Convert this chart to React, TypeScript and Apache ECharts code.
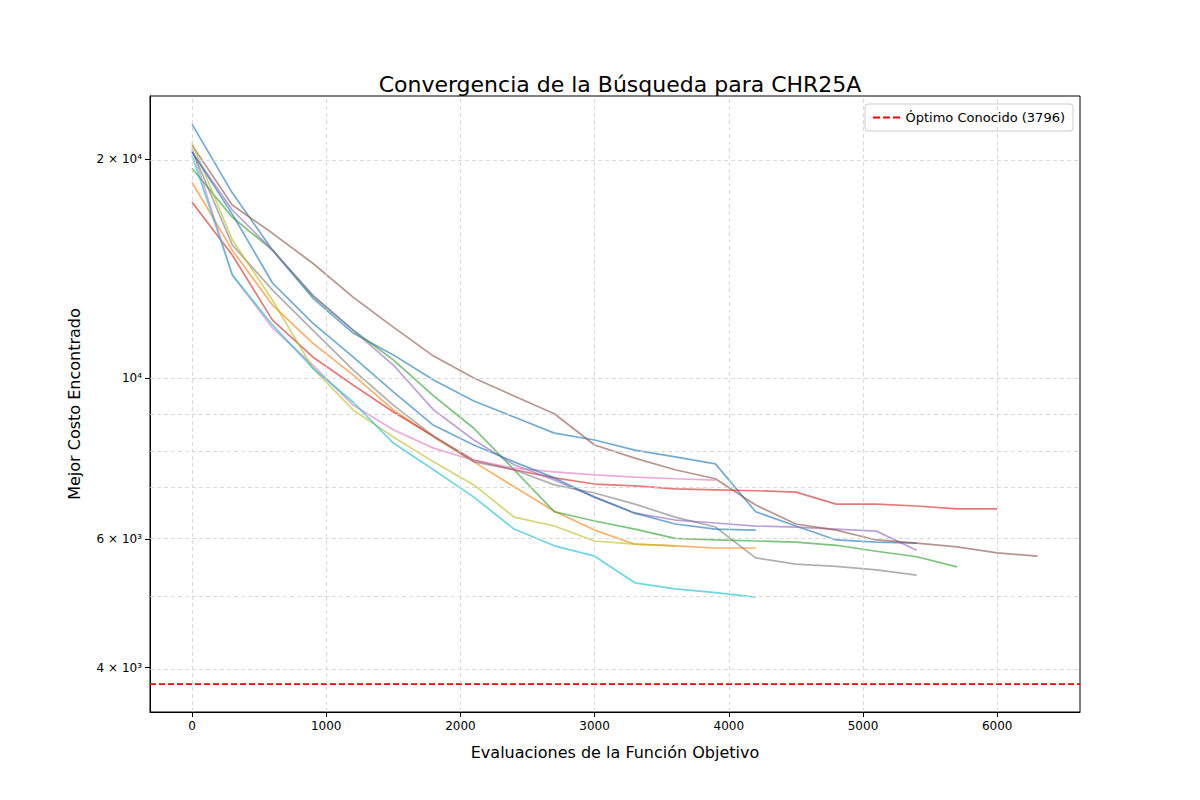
import React, { useEffect, useRef } from "react";
import * as echarts from "echarts";

const evals = [0, 300, 600, 900, 1200, 1500, 1800, 2100, 2400, 2700, 3000, 3300, 3600, 3900, 4200, 4500, 4800, 5100, 5400, 5700, 6000, 6300];

const runBlueA = [22340, 17970, 14990, 12880, 11530, 10760, 9940, 9300, 8840, 8400, 8220, 7960, 7790, 7620, 6550, 6260, 5990, 5950, 5930];
const runOrange = [18580, 14990, 12600, 11170, 10100, 9040, 8300, 7670, 7090, 6560, 6180, 5910, 5880, 5840, 5840];
const runGreen = [19430, 16640, 14990, 12970, 11640, 10590, 9450, 8530, 7480, 6550, 6360, 6200, 6020, 5990, 5970, 5950, 5890, 5780, 5680, 5500];
const runRed = [17450, 14760, 12010, 10690, 9780, 8980, 8320, 7710, 7480, 7290, 7150, 7110, 7040, 7020, 7000, 6970, 6710, 6710, 6670, 6610, 6610];
const runPurple = [20460, 17020, 14990, 13000, 11640, 10420, 9040, 8220, 7600, 7240, 6860, 6520, 6380, 6320, 6260, 6240, 6200, 6160, 5800];
const runBrown = [20900, 17290, 15810, 14380, 12920, 11750, 10720, 10000, 9450, 8930, 8090, 7760, 7480, 7270, 6690, 6300, 6180, 5990, 5930, 5860, 5750, 5690];
const runPink = [20700, 13860, 11720, 10420, 9180, 8490, 8010, 7710, 7520, 7430, 7360, 7310, 7270, 7240];
const runGray = [20570, 15240, 13210, 11640, 10260, 9180, 8320, 7670, 7480, 7130, 6950, 6710, 6440, 6240, 5660, 5550, 5510, 5450, 5360];
const runOlive = [21040, 15490, 12790, 10320, 9040, 8300, 7670, 7130, 6440, 6260, 5970, 5910, 5880];
const runCyan = [20250, 13860, 11830, 10320, 9270, 8140, 7480, 6860, 6200, 5880, 5690, 5230, 5130, 5070, 5000];
const runBlueB = [20460, 16800, 13510, 11900, 10690, 9570, 8610, 8090, 7670, 7290, 6860, 6520, 6300, 6200, 6180];

const runs: [number[], string][] = [
  [runBlueA, "#1f77b4"], [runOrange, "#ff7f0e"], [runGreen, "#2ca02c"], [runRed, "#d62728"],
  [runPurple, "#9467bd"], [runBrown, "#8c564b"], [runPink, "#e377c2"], [runGray, "#7f7f7f"],
  [runOlive, "#bcbd22"], [runCyan, "#17becf"], [runBlueB, "#1f77b4"],
];

const optimum = 3796;
const xTicks = [0, 1000, 2000, 3000, 4000, 5000, 6000];
const yGrid = [4000, 5000, 6000, 7000, 8000, 9000, 10000, 20000];
const yLabelValues = [4000, 6000, 10000, 20000];
const yLabelText: Record<number, string> = { 4000: "4 × 10³", 6000: "6 × 10³", 10000: "10⁴", 20000: "2 × 10⁴" };

const X_MIN = -313, X_MAX = 6617;
const Y_MIN = Math.log10(3475), Y_MAX = Math.log10(24416);

export default function App() {
  const ref = useRef<HTMLDivElement>(null);
  useEffect(() => {
    const chart = echarts.init(ref.current!, null, { renderer: "svg" });
    const gridStyle = { color: "#d0d0d0", type: [4, 3] as any, width: 0.8 };
    const series: any[] = runs.map(([vals, color], i) => ({
      type: "line",
      name: "Ejecución " + (i + 1),
      data: vals.map((v, j) => [evals[j], Math.log10(v)]),
      symbol: "none",
      lineStyle: { color, width: 1.7, opacity: 0.62 },
      itemStyle: { color },
      z: 3,
    }));
    series.unshift({
      type: "line",
      name: "grid",
      data: [],
      silent: true,
      markLine: {
        symbol: "none",
        silent: true,
        label: { show: false },
        lineStyle: gridStyle,
        data: [
          ...xTicks.map((x) => ({ xAxis: x })),
          ...yGrid.map((v) => ({ yAxis: Math.log10(v) })),
        ],
      },
      z: 1,
    });
    series.push({
      type: "line",
      name: "Óptimo Conocido (3796)",
      data: [[X_MIN, Math.log10(optimum)], [X_MAX, Math.log10(optimum)]],
      symbol: "none",
      lineStyle: { color: "#ff0000", width: 1.6, type: [6, 3] },
      itemStyle: { color: "#ff0000" },
      z: 4,
    });
    chart.setOption({
      animation: false,
      textStyle: { fontFamily: "DejaVu Sans" },
      title: {
        text: "Convergencia de la Búsqueda para CHR25A",
        left: 607, top: 60, textAlign: "center",
        textStyle: { fontSize: 22, fontWeight: "normal", color: "#000", fontFamily: "DejaVu Sans" },
      },
      legend: {
        data: [{ name: "Óptimo Conocido (3796)", icon: "path://M0,0H7V2H0Z M10,0H17V2H10Z M20,0H27V2H20Z" }],
        right: 119, top: 96,
        itemWidth: 28, itemHeight: 2,
        itemGap: 8,
        padding: [7, 8],
        borderColor: "#cccccc", borderWidth: 1, borderRadius: 3,
        backgroundColor: "#fff",
        textStyle: { fontSize: 13, color: "#000", fontFamily: "DejaVu Sans" },
      },
      grid: { left: 142, right: 112, top: 88, bottom: 80, show: true, borderColor: "#000", borderWidth: 1, backgroundColor: "transparent" },
      xAxis: {
        type: "value", min: X_MIN, max: X_MAX,
        name: "Evaluaciones de la Función Objetivo", nameLocation: "middle", nameGap: 32,
        nameTextStyle: { fontSize: 16, color: "#000" },
        axisLine: { onZero: false, lineStyle: { color: "#000" } },
        axisTick: { customValues: xTicks, lineStyle: { color: "#000" } },
        axisLabel: { customValues: xTicks, color: "#000", fontSize: 12, formatter: (v: number) => String(v) },
        splitLine: { show: false },
      },
      yAxis: {
        type: "value", min: Y_MIN, max: Y_MAX,
        name: "Mejor Costo Encontrado", nameLocation: "middle", nameGap: 68,
        nameTextStyle: { fontSize: 16, color: "#000" },
        axisLine: { show: true, onZero: false, lineStyle: { color: "#000" } },
        axisTick: { show: true, customValues: yLabelValues.map((v) => Math.log10(v)), lineStyle: { color: "#000" } },
        axisLabel: {
          customValues: yLabelValues.map((v) => Math.log10(v)),
          color: "#000", fontSize: 12,
          formatter: (val: number) => yLabelText[Math.round(Math.pow(10, val) / 1000) * 1000] || "",
        },
        splitLine: { show: false },
      },
      series,
    });
    return () => chart.dispose();
  }, []);
  return <div ref={ref} style={{ width: 1184, height: 784 }} />;
}
